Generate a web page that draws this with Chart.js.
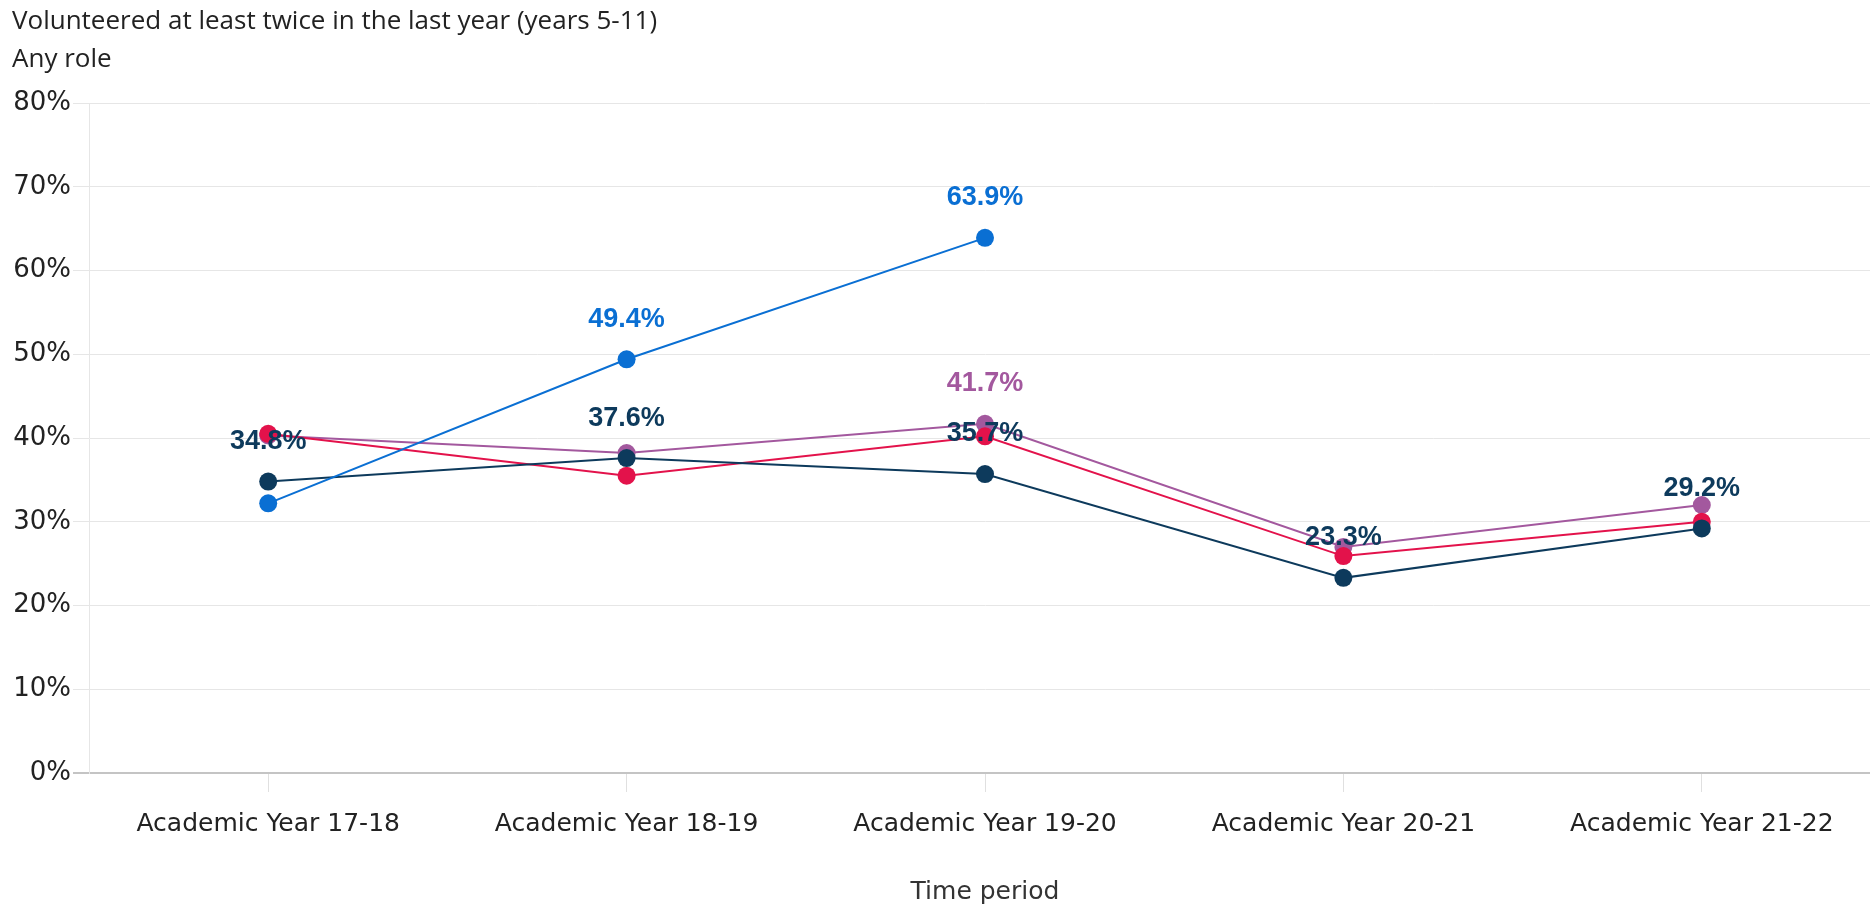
<!DOCTYPE html>
<html>
<head>
<meta charset="utf-8">
<script src="https://cdn.jsdelivr.net/npm/chart.js@4/dist/chart.umd.min.js"></script>
<style>
  html, body { margin: 0; padding: 0; background: #ffffff; overflow: hidden; }
  #wrap { width: 1870px; height: 909px; overflow: hidden; }
</style>
</head>
<body>
<div id="wrap"><canvas id="c" width="1881" height="909"></canvas></div>
<script>
// ---- data ----
const categories = ["Academic Year 17-18", "Academic Year 18-19", "Academic Year 19-20", "Academic Year 20-21", "Academic Year 21-22"];
const seriesBlue   = [32.2, 49.4, 63.9, null, null];
const seriesNavy   = [34.8, 37.6, 35.7, 23.3, 29.2];
const seriesRed    = [40.5, 35.5, 40.2, 25.9, 30.0];
const seriesPurple = [40.3, 38.2, 41.7, 27.0, 32.0];
const labelsBlue   = [false, true, true, false, false];
const labelsNavy   = [true, true, true, true, true];
const labelsRed    = [false, false, false, false, false];
const labelsPurple = [false, false, true, false, false];
const yTicks = [0, 10, 20, 30, 40, 50, 60, 70, 80];
const titleText = "Volunteered at least twice in the last year (years 5-11)";
const subtitleText = "Any role";
const xAxisTitle = "Time period";

const COLORS = { blue: "#0a6fd3", navy: "#0d3a5c", red: "#e3124b", purple: "#a3589e" };

function mk(label, data, color, showLabels) {
  return {
    label, data,
    borderColor: color, backgroundColor: color,
    pointBackgroundColor: color, pointBorderWidth: 0,
    pointRadius: 9, pointHoverRadius: 9,
    borderWidth: 2, tension: 0, spanGaps: false,
    showLabels
  };
}

const valueLabels = {
  id: "valueLabels",
  afterDatasetsDraw(chart) {
    const ctx = chart.ctx;
    ctx.save();
    ctx.font = "bold 27px 'Liberation Sans', Arial, sans-serif";
    ctx.textAlign = "center";
    ctx.textBaseline = "middle";
    chart.data.datasets.forEach((ds, di) => {
      const meta = chart.getDatasetMeta(di);
      meta.data.forEach((pt, i) => {
        const v = ds.data[i];
        if (v == null || !ds.showLabels[i]) return;
        ctx.fillStyle = ds.borderColor;
        ctx.fillText(v.toFixed(1) + "%", pt.x, pt.y - 40);
      });
    });
    ctx.restore();
  }
};

new Chart(document.getElementById("c"), {
  type: "line",
  data: {
    labels: categories,
    datasets: [
      mk("Blue", seriesBlue, COLORS.blue, labelsBlue),
      mk("Navy", seriesNavy, COLORS.navy, labelsNavy),
      mk("Red", seriesRed, COLORS.red, labelsRed),
      mk("Purple", seriesPurple, COLORS.purple, labelsPurple)
    ]
  },
  options: {
    responsive: false,
    animation: false,
    layout: { autoPadding: false, padding: { left: 12, right: 0, top: 0, bottom: 0 } },
    plugins: {
      legend: { display: false },
      tooltip: { enabled: false },
      title: {
        display: true, text: titleText, align: "start", color: "#222222",
        font: { family: "'Open Sans'", size: 26, weight: "normal", lineHeight: 1.2 },
        padding: { top: 6, bottom: 0 }
      },
      subtitle: {
        display: true, text: subtitleText, align: "start", color: "#222222",
        font: { family: "'Open Sans'", size: 26, weight: "normal", lineHeight: 1.2 },
        padding: { top: 7.2, bottom: 27.4 }
      }
    },
    scales: {
      x: {
        type: "category",
        offset: true,
        grid: { display: true, offset: false, drawOnChartArea: false, drawTicks: true, tickLength: 19, color: "#e0e0e0", lineWidth: 1 },
        border: { display: true, color: "#c4c4c4", width: 2 },
        ticks: { color: "#222222", font: { family: "'DejaVu Sans'", size: 25 }, padding: 17, maxRotation: 0 },
        title: { display: true, text: xAxisTitle, color: "#333333", font: { family: "'DejaVu Sans'", size: 25 }, padding: { top: 0, bottom: 2 } },
        afterFit(scale) { scale.height = 136; }
      },
      y: {
        min: 0, max: 80,
        afterBuildTicks(scale) { scale.ticks = yTicks.map(v => ({ value: v })); },
        grid: {
          color: (c) => (c.tick && c.tick.value === 0 ? "#c4c4c4" : "#e6e6e6"),
          lineWidth: (c) => (c.tick && c.tick.value === 0 ? 2 : 1),
          tickLength: 16
        },
        border: { display: true, color: "#e6e6e6", width: 1 },
        ticks: { color: "#222222", font: { family: "'DejaVu Sans'", size: 26 }, padding: 2, callback: (v) => v + "%" },
        afterFit(scale) { scale.width = 77; }
      }
    }
  },
  plugins: [valueLabels]
});
</script>
</body>
</html>
